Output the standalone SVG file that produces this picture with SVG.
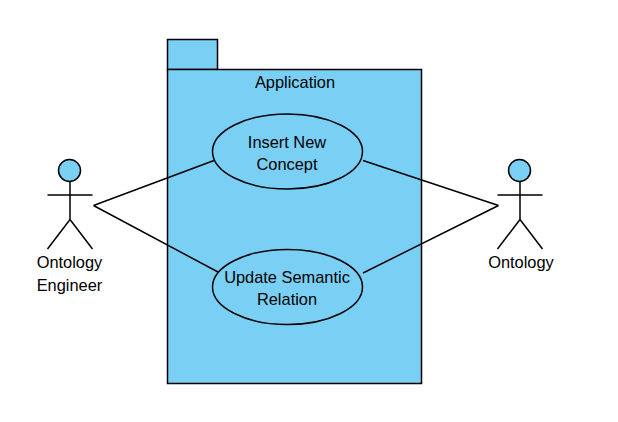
<svg xmlns="http://www.w3.org/2000/svg" width="618" height="422" viewBox="0 0 618 422">
<style>
.s{fill:#7acff5;stroke:#000;stroke-width:1.5}
.l{fill:none;stroke:#000;stroke-width:1.5}
text{font-family:"Liberation Sans",Arial,sans-serif;font-size:16.4px;fill:#000;text-anchor:middle}
</style>
<rect width="618" height="422" fill="#fff"/>
<g id="package-application">
<rect class="s" x="167.500" y="39.500" width="50" height="30"/>
<rect class="s" x="167.500" y="69.500" width="254" height="314"/>
<text x="295" y="88">Application</text>
</g>
<g id="connectors">
<path class="l" d="M93.500 205.500L214 160.500M93.500 205.500L218 272M363 160.500L498.500 205.500M363 273L498.500 205.500"/>
</g>
<g id="usecase-insert">
<ellipse class="s" cx="287.500" cy="151.500" rx="75" ry="37.500"/>
<text x="287" y="148">Insert New</text>
<text x="287" y="170">Concept</text>
</g>
<g id="usecase-update">
<ellipse class="s" cx="287.500" cy="287" rx="75" ry="37.500"/>
<text x="287" y="283">Update Semantic</text>
<text x="287" y="305">Relation</text>
</g>
<g id="actor-engineer">
<circle class="s" cx="69.500" cy="170.500" r="11"/>
<path class="l" d="M70 182V219.500M47.500 195H92.500M47.500 249L70 219.500L92.500 249"/>
<text x="69.500" y="268">Ontology</text>
<text x="69.500" y="291">Engineer</text>
</g>
<g id="actor-ontology">
<circle class="s" cx="519.500" cy="170.500" r="11"/>
<path class="l" d="M520 182V219.500M497.500 195H542.500M497.500 249L520 219.500L542.500 249"/>
<text x="521" y="268">Ontology</text>
</g>
</svg>
